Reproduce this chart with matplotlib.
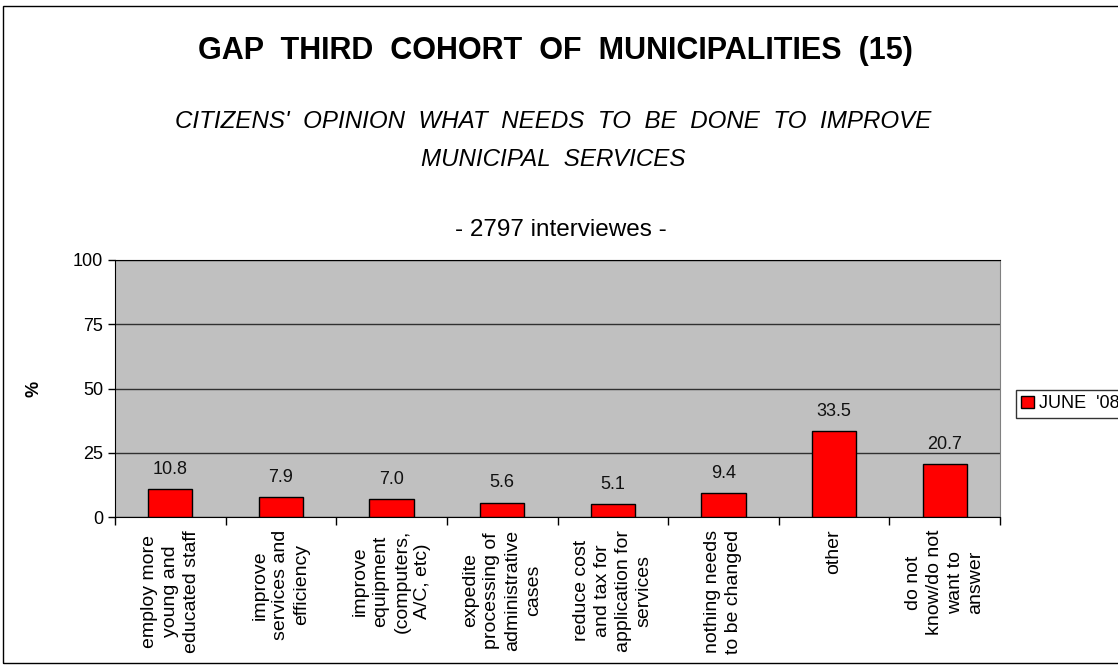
import matplotlib
matplotlib.use("Agg")
from matplotlib import pyplot as plt
from matplotlib.patches import Rectangle

# data
categories = ["employ more\nyoung and\neducated staff",
              "improve\nservices and\nefficiency",
              "improve\nequipment\n(computers,\nA/C, etc)",
              "expedite\nprocessing of\nadministrative\ncases",
              "reduce cost\nand tax for\napplication for\nservices",
              "nothing needs\nto be changed",
              "other",
              "do not\nknow/do not\nwant to\nanswer"]
values = [10.8, 7.9, 7.0, 5.6, 5.1, 9.4, 33.5, 20.7]
series_name = "JUNE  '08"
yticks = [0, 25, 50, 75, 100]

plt.rcParams['font.family'] = ['Liberation Sans', 'DejaVu Sans']

fig = plt.figure(figsize=(11.18, 6.66), dpi=100)
W, H = 1118., 666.

# outer frame
fig.patches.append(Rectangle((3/W, 3/H), 1.2, 1-9/H, transform=fig.transFigure,
                             fill=False, edgecolor='black', lw=1, clip_on=False))

ax = fig.add_axes([115/W, 1-517/H, 885/W, 257/H])
ax.set_facecolor('#C0C0C0')

x = list(range(len(values)))
bars = ax.bar(x, values, width=0.4, color='#FF0000', edgecolor='black', lw=1,
              label=series_name, zorder=3)
for xi, v in zip(x, values):
    ax.annotate("%.1f" % v, (xi, v), xytext=(0, 8), textcoords='offset points',
                ha='center', va='bottom', fontsize=13, color='#111111')

ax.set_xlim(-0.5, len(values) - 0.5)
ax.set_ylim(0, 100)
ax.set_yticks(yticks)
ax.yaxis.grid(True, color='#303030', lw=1, zorder=1)
ax.tick_params(axis='y', labelsize=13, length=5, direction='out', width=1)

# x ticks between categories, labels at centres
ax.set_xticks([i - 0.5 for i in range(len(values) + 1)])
ax.set_xticklabels([])
ax.tick_params(axis='x', length=6, width=1, direction='out')
for xi, lab in zip(x, categories):
    ax.text(xi, -0.05, lab, transform=ax.get_xaxis_transform(), rotation=90,
            ha='center', va='top', fontsize=14, linespacing=1.3,
            multialignment='center')

for s in ['left', 'bottom', 'top']:
    ax.spines[s].set_color('black')
ax.spines['right'].set_color('#808080')

ax.set_ylabel('%', fontsize=13, fontweight='bold', labelpad=22)

fig.text(555/W, 1-51/H, "GAP  THIRD  COHORT  OF  MUNICIPALITIES  (15)",
         ha='center', va='center', fontsize=22, fontweight='bold')
fig.text(553/W, 1-121/H, "CITIZENS'  OPINION  WHAT  NEEDS  TO  BE  DONE  TO  IMPROVE",
         ha='center', va='center', fontsize=17.4, style='italic')
fig.text(553/W, 1-159/H, "MUNICIPAL  SERVICES",
         ha='center', va='center', fontsize=17.4, style='italic')
fig.text(561/W, 1-230/H, "- 2797 interviewes -",
         ha='center', va='center', fontsize=17.5)

leg = ax.legend(loc='upper left', bbox_to_anchor=(1016/W, 1-390/H),
                bbox_transform=fig.transFigure, fontsize=13, frameon=True,
                fancybox=False, edgecolor='black', borderpad=0.3,
                handlelength=0.7, handleheight=0.7, handletextpad=0.3,
                borderaxespad=0)
leg.get_frame().set_linewidth(1)

fig.savefig("out.png", dpi=100)
